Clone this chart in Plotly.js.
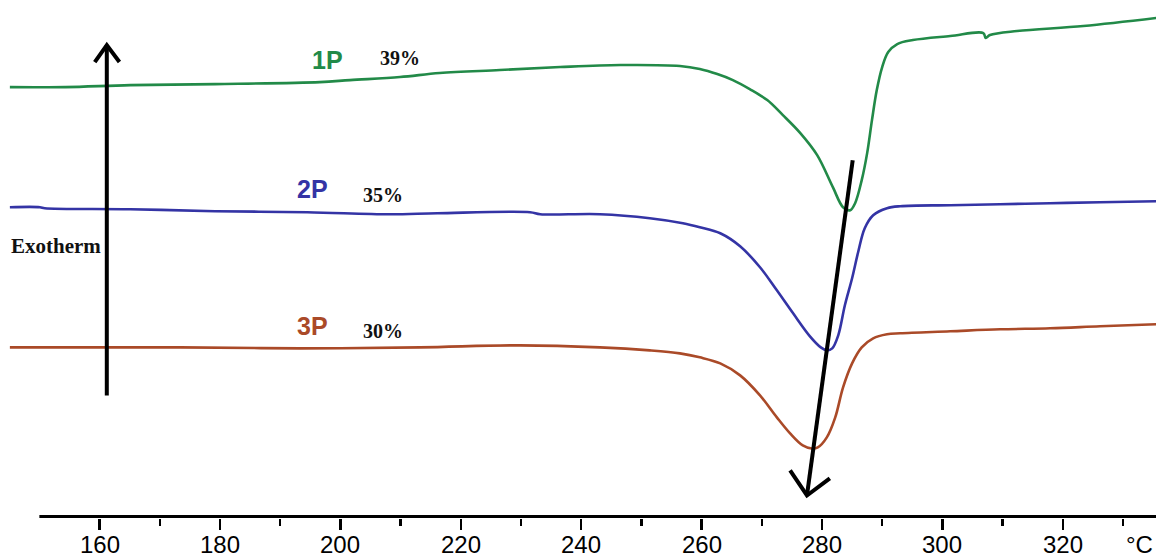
<!DOCTYPE html>
<html>
<head>
<meta charset="utf-8">
<script src="https://cdn.plot.ly/plotly-3.0.1.min.js"></script>
<style>
  html, body { margin: 0; padding: 0; background: #ffffff; }
  #chart { width: 1156px; height: 559px; }
</style>
</head>
<body>
<div id="chart"></div>
<script>
// DSC heating scans of three samples (temperature in °C, heat flow in arbitrary units, exotherm up)
const temp1P = [145.1, 154.3, 165.1, 179.2, 196.6, 201.6, 209.9, 216.5, 226.5, 236.5, 246.5, 256.4, 259.7, 262.6, 265.2,
  268.0, 270.9, 273.5, 276.4, 279.2, 281.8, 283.5, 284.7, 285.5, 286.6, 287.5, 288.3, 289.1, 290.0, 291.0, 292.5,
  295.1, 301.3, 306.8, 307.2, 307.9, 312.4, 323.4, 335.5];
const flow1P = [42.9, 42.9, 43.1, 43.2, 43.4, 43.6, 43.9, 44.3, 44.6, 44.9, 45.1, 45.0, 44.7, 44.2, 43.6,
  42.7, 41.6, 40.1, 38.3, 36.1, 32.9, 30.9, 30.6, 31.3, 33.6, 36.3, 39.6, 42.6, 44.9, 46.4, 47.2,
  47.6, 48.0, 48.3, 47.8, 48.1, 48.5, 49.0, 49.8];

const temp2P = [145.1, 150.1, 150.9, 165.1, 179.2, 194.5, 208.2, 216.1, 231.5, 233.2, 243.1, 251.4, 256.9, 259.7,
  263.1, 266.4, 269.7, 272.5, 275.2, 278.0, 279.8, 280.8, 281.7, 282.7, 283.8, 285.0, 286.0, 287.1, 288.5, 290.8,
  293.0, 301.3, 309.6, 317.9, 326.2, 335.5];
const flow2P = [30.9, 30.9, 30.8, 30.7, 30.5, 30.4, 30.2, 30.3, 30.4, 30.2, 30.2, 29.8, 29.3, 28.9,
  28.3, 27.0, 24.9, 22.6, 20.3, 18.0, 16.9, 16.6, 16.8, 18.1, 21.1, 23.8, 26.4, 28.8, 30.1, 30.8,
  31.0, 31.1, 31.2, 31.3, 31.4, 31.5];

const temp3P = [145.1, 173.4, 193.3, 213.2, 229.8, 243.1, 251.4, 256.4, 259.7, 263.1, 266.4, 269.7, 272.5, 274.7,
  276.8, 278.3, 279.3, 280.8, 282.2, 283.5, 285.0, 286.6, 288.5, 290.8, 293.0, 301.3, 309.6, 317.9, 326.2, 335.5];
const flow3P = [16.9, 16.9, 16.8, 16.9, 17.1, 16.9, 16.6, 16.3, 15.9, 15.3, 14.1, 12.1, 9.9, 8.3,
  7.1, 6.8, 6.9, 7.9, 9.9, 12.9, 15.3, 16.9, 17.8, 18.2, 18.3, 18.5, 18.7, 18.8, 19.0, 19.2];

const sampleNames = ['1P', '2P', '3P'];
const crystallinity = ['39%', '35%', '30%'];
const tickValues = [160, 180, 200, 220, 240, 260, 280, 300, 320];
const minorTickValues = [170, 190, 210, 230, 250, 270, 290, 310, 330];

const colors = ['rgb(34,138,72)', 'rgb(52,52,165)', 'rgb(170,74,40)'];
const labelPos = [[197.9, 45.6, 209.9, 45.8], [195.4, 32.7, 207.1, 32.1], [195.4, 19.0, 207.1, 18.5]];

const xs = [temp1P, temp2P, temp3P];
const ys = [flow1P, flow2P, flow3P];

const traces = xs.map((x, i) => ({
  x: x, y: ys[i], type: 'scatter', mode: 'lines',
  line: { color: colors[i], width: 2.6, shape: 'spline', smoothing: 1.0 },
  hoverinfo: 'skip', showlegend: false
}));

const axisFont = { family: 'Liberation Sans, Arial, sans-serif', size: 24, color: '#000' };
const labelY = -0.052;

const annotations = [];
sampleNames.forEach((name, i) => {
  const p = labelPos[i];
  annotations.push({ x: p[0], y: p[1], xref: 'x', yref: 'y', text: '<b>' + name + '</b>', showarrow: false,
    font: { family: 'Liberation Sans, Arial, sans-serif', size: 25, color: colors[i] } });
  annotations.push({ x: p[2], y: p[3], xref: 'x', yref: 'y', text: '<b>' + crystallinity[i] + '</b>', showarrow: false,
    font: { family: 'Liberation Serif, Times New Roman, serif', size: 20, color: '#111' } });
});
annotations.push({ x: 0.008, y: 27.0, xref: 'paper', yref: 'y', xanchor: 'left', text: '<b>Exotherm</b>', showarrow: false,
  font: { family: 'Liberation Serif, Times New Roman, serif', size: 21, color: '#111' } });
// temperature tick labels and unit
tickValues.forEach(v => {
  annotations.push({ x: v, y: labelY, xref: 'x', yref: 'paper', yanchor: 'middle', text: String(v),
    showarrow: false, font: axisFont });
});
annotations.push({ x: 0.999, y: labelY, xref: 'paper', yref: 'paper', xanchor: 'right', yanchor: 'middle', text: '°C',
  showarrow: false, font: axisFont });

const black = { color: '#000', width: 4 };
const shapes = [
  // baseline of the temperature axis
  { type: 'line', xref: 'x', yref: 'y', x0: 150, x1: 335.5, y0: 0, y1: 0, line: { color: '#000', width: 3 } },
  // exotherm direction arrow
  { type: 'line', xref: 'x', yref: 'y', x0: 161.2, x1: 161.2, y0: 12.1, y1: 47.1, line: black },
  { type: 'path', xref: 'x', yref: 'y', path: 'M 159.2 45.4 L 161.2 47.1 L 163.3 45.4', line: black },
  // shift of the melting peak
  { type: 'line', xref: 'x', yref: 'y', x0: 285.1, x1: 277.5, y0: 35.6, y1: 2.1, line: black },
  { type: 'path', xref: 'x', yref: 'y', path: 'M 274.7 4.6 L 277.5 2.1 L 281.3 3.8', line: black }
];

const layout = {
  width: 1156, height: 559,
  margin: { l: 0, r: 0, t: 0, b: 41 },
  paper_bgcolor: '#fff', plot_bgcolor: '#fff',
  xaxis: {
    range: [143.46, 335.48], showgrid: false, zeroline: false, showline: false,
    tickmode: 'array', tickvals: tickValues, showticklabels: false,
    ticks: 'outside', ticklen: 11, tickwidth: 2.5, tickcolor: '#000',
    minor: { tickmode: 'array', tickvals: minorTickValues, ticks: 'outside', ticklen: 7, tickwidth: 2.5,
      tickcolor: '#000', showgrid: false },
    fixedrange: true
  },
  yaxis: { range: [-0.15, 51.6], visible: false, fixedrange: true },
  shapes: shapes,
  annotations: annotations,
  showlegend: false
};

Plotly.newPlot('chart', traces, layout, { displayModeBar: false, staticPlot: true });
</script>
</body>
</html>
